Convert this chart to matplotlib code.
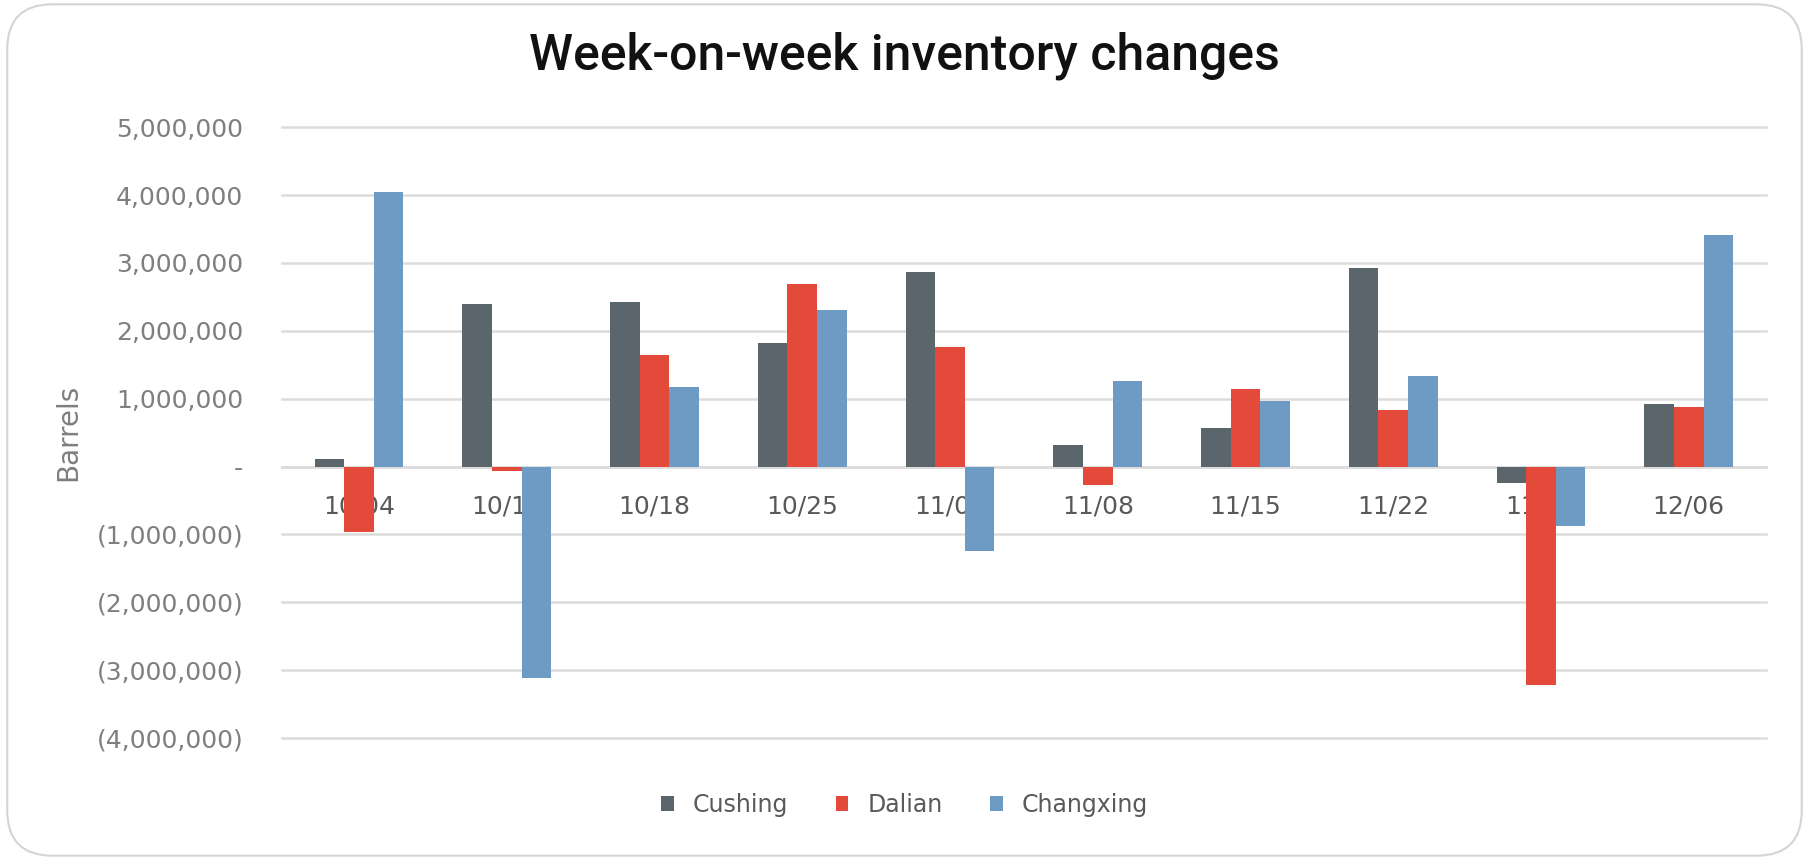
import matplotlib
matplotlib.use('Agg')
import matplotlib.pyplot as plt
import numpy as np
from matplotlib.patches import FancyBboxPatch
from matplotlib.ticker import FuncFormatter

weeks = ['10/04', '10/11', '10/18', '10/25', '11/01', '11/08', '11/15', '11/22', '11/29', '12/06']
cushing = [110000, 2400000, 2430000, 1820000, 2870000, 310000, 570000, 2930000, -250000, 920000]
dalian = [-970000, -70000, 1650000, 2690000, 1760000, -270000, 1140000, 840000, -3220000, 870000]
changxing = [4050000, -3120000, 1170000, 2310000, -1240000, 1260000, 970000, 1340000, -880000, 3410000]

series = [('Cushing', cushing, '#5a656c'),
          ('Dalian', dalian, '#e34a3a'),
          ('Changxing', changxing, '#6e9bc3')]


def fmt(v, pos):
    if v == 0:
        return '-'
    if v < 0:
        return '({:,.0f})'.format(-v)
    return '{:,.0f}'.format(v)


if __name__ == '__main__':
    plt.rcParams['font.family'] = ['DejaVu Sans']
    fig = plt.figure(figsize=(18.09, 8.6), dpi=100)
    fig.patches.append(FancyBboxPatch((0.004, 0.005), 0.992, 0.99, transform=fig.transFigure,
                                      boxstyle='round,pad=0,rounding_size=0.025',
                                      facecolor='none', edgecolor='#d4d4d4', linewidth=1.5,
                                      mutation_aspect=1809 / 860))
    ax = fig.add_axes([0.156, 0.142, 0.82, 0.71])
    ax.set_facecolor('none')

    x = np.arange(len(weeks))
    w = 0.2
    for i, (name, vals, col) in enumerate(series):
        ax.bar(x + (i - 1) * w, vals, width=w, color=col, label=name, zorder=3)

    ax.set_xlim(-0.52, len(weeks) - 0.48)
    ax.set_ylim(-4000000, 5000000)
    ax.set_yticks(np.arange(-4000000, 5000001, 1000000))
    ax.yaxis.set_major_formatter(FuncFormatter(fmt))
    ax.grid(axis='y', color='#dcdcdc', linewidth=1.8, zorder=0)
    for gl in ax.get_ygridlines():
        gl.set_clip_on(False)
    for s in ['top', 'right', 'left']:
        ax.spines[s].set_visible(False)
    ax.spines['bottom'].set_position(('data', 0))
    ax.spines['bottom'].set_color('#dcdcdc')
    ax.spines['bottom'].set_linewidth(1.8)
    ax.spines['bottom'].set_zorder(1)
    ax.xaxis.set_zorder(1.5)
    ax.set_xticks(x)
    ax.set_xticklabels(weeks)
    ax.tick_params(axis='x', length=0, pad=20, labelsize=18, labelcolor='#595959')
    ax.tick_params(axis='y', length=0, pad=28, labelsize=18, labelcolor='#7f7f7f')

    fig.text(0.038, 0.497, 'Barrels', rotation=90, ha='center', va='center',
             fontsize=20, color='#7f7f7f')
    fig.text(0.5, 0.935, 'Week-on-week inventory changes', ha='center', va='center',
             fontsize=36, fontweight='medium', color='#111111',
             family=['Roboto', 'DejaVu Sans'])

    leg = fig.legend(loc='center', bbox_to_anchor=(0.5, 0.064), ncol=3, frameon=False,
                     fontsize=17, handlelength=0.55, handleheight=0.55, handletextpad=0.8,
                     columnspacing=2.0)
    for t in leg.get_texts():
        t.set_color('#595959')

    plt.savefig('out.png', dpi=100)
